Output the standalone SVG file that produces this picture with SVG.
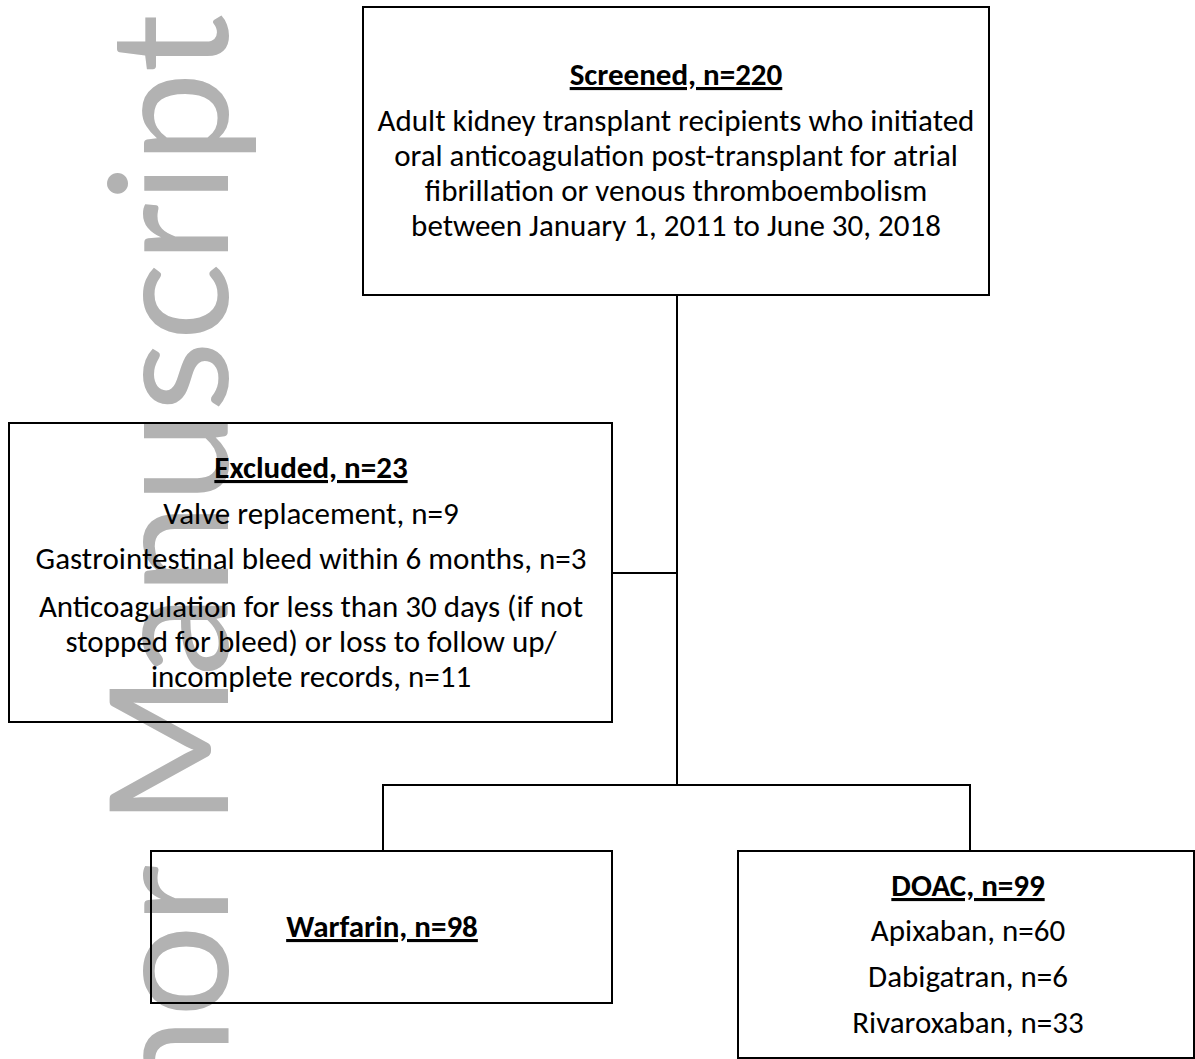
<svg xmlns="http://www.w3.org/2000/svg" width="1195" height="1059" viewBox="0 0 1195 1059">
<style>
.box{fill:none;stroke:#000;stroke-width:2}
.ln{fill:none;stroke:#000;stroke-width:2}
.t{font-family:Carlito,Lato,"Liberation Sans",sans-serif;font-size:31px;fill:#000;text-anchor:middle}
.h{font-weight:bold;text-decoration:underline}
.wm{font-family:Lato,"Open Sans",sans-serif;font-size:164px;fill:#b2b2b2}
</style>
<rect width="1195" height="1059" fill="#fff"/>
<g id="watermark">
<text class="wm" transform="translate(228,14) rotate(-90)" text-anchor="end">Author Manuscript</text>
</g>
<g id="connectors">
<line class="ln" x1="677" y1="295" x2="677" y2="785"/>
<line class="ln" x1="612" y1="573" x2="677" y2="573"/>
<polyline class="ln" points="383,851 383,785 970,785 970,851"/>
</g>
<g id="screened">
<rect class="box" x="363" y="7" width="626" height="288"/>
<text class="t h" x="676" y="85">Screened, n=220</text>
<text class="t" x="676" y="131">Adult kidney transplant recipients who initiated</text>
<text class="t" x="676" y="166">oral anticoagulation post-transplant for atrial</text>
<text class="t" x="676" y="201">fibrillation or venous thromboembolism</text>
<text class="t" x="676" y="236">between January 1, 2011 to June 30, 2018</text>
</g>
<g id="excluded">
<rect class="box" x="9" y="423" width="603" height="299"/>
<text class="t h" x="311" y="478">Excluded, n=23</text>
<text class="t" x="311" y="524">Valve replacement, n=9</text>
<text class="t" x="311" y="569">Gastrointestinal bleed within 6 months, n=3</text>
<text class="t" x="311" y="617">Anticoagulation for less than 30 days (if not</text>
<text class="t" x="311" y="652">stopped for bleed) or loss to follow up/</text>
<text class="t" x="311" y="687">incomplete records, n=11</text>
</g>
<g id="warfarin">
<rect class="box" x="151" y="851" width="461" height="152"/>
<text class="t h" x="382" y="937">Warfarin, n=98</text>
</g>
<g id="doac">
<rect class="box" x="738" y="851" width="456" height="207"/>
<text class="t h" x="968" y="896">DOAC, n=99</text>
<text class="t" x="968" y="941">Apixaban, n=60</text>
<text class="t" x="968" y="987">Dabigatran, n=6</text>
<text class="t" x="968" y="1033">Rivaroxaban, n=33</text>
</g>
</svg>
